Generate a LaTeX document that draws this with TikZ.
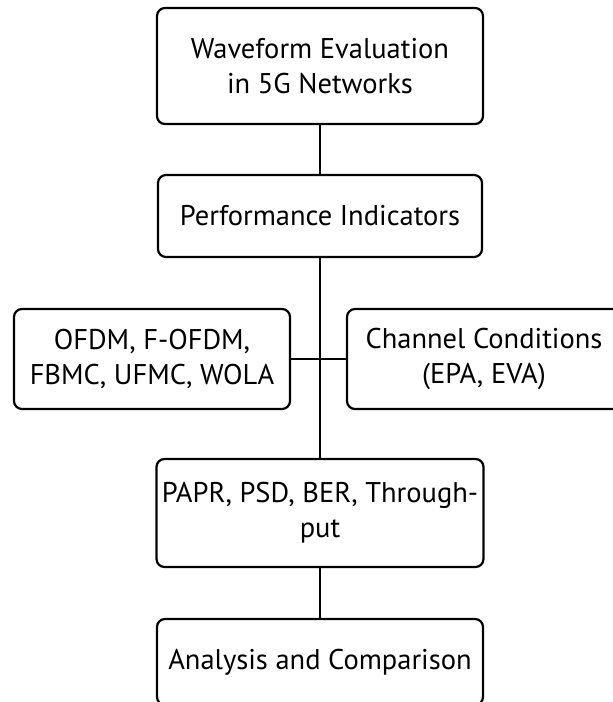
\documentclass[tikz,border=0pt]{standalone}
\usepackage{fontspec}
\setmainfont{PT Sans}
\begin{document}
\begin{tikzpicture}[x=1pt,y=-1pt,
  box/.style={draw=black,line width=2.2pt,rounded corners=8pt,align=center,
    inner sep=0pt,font=\fontsize{28.5}{35}\selectfont},
  link/.style={draw=black,line width=2.2pt}]
\useasboundingbox (0,0) rectangle (613,702);
\node[box,minimum width=326pt,minimum height=116pt] (top) at (320,66) {Waveform Evaluation\\in 5G Networks};
\node[box,minimum width=324pt,minimum height=82pt] (perf) at (320,216) {Performance Indicators};
\node[box,minimum width=276pt,minimum height=100pt] (wave) at (152,359) {OFDM, F-OFDM,\\FBMC, UFMC, WOLA};
\node[box,minimum width=274pt,minimum height=100pt] (chan) at (484,359) {Channel Conditions\\(EPA, EVA)};
\node[box,minimum width=327pt,minimum height=108pt] (metr) at (320,513) {PAPR, PSD, BER, Through-\\put};
\node[box,minimum width=326pt,minimum height=86pt] (anal) at (320,662) {Analysis and Comparison};
\draw[link] (top.south) -- (perf.north);
\draw[link] (perf.south) -- (metr.north);
\draw[link] (wave.east) -- (chan.west);
\draw[link] (metr.south) -- (anal.north);
\end{tikzpicture}
\end{document}
